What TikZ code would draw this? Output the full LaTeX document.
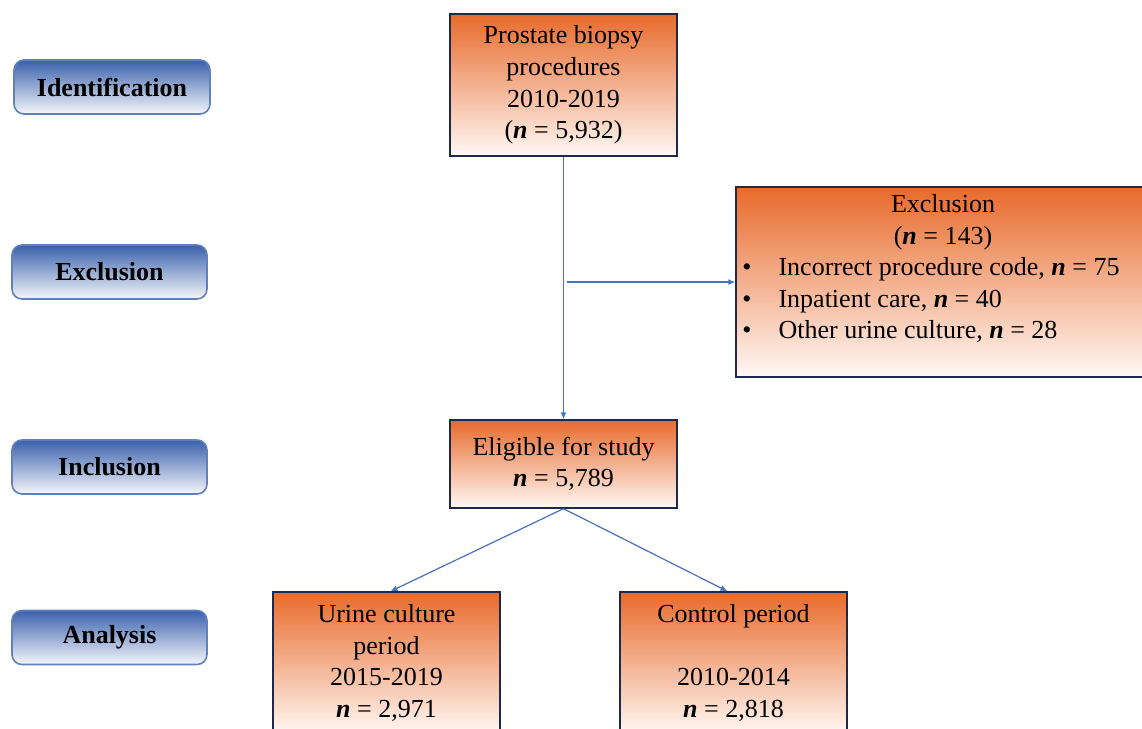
\documentclass[tikz,border=0pt]{standalone}
\usepackage{fontspec}
\setmainfont{Liberation Serif}
\usepackage{tikz}
\usetikzlibrary{arrows.meta}
\definecolor{boxorange}{RGB}{232,106,44}
\definecolor{boxpale}{RGB}{255,248,244}
\definecolor{stageblue}{RGB}{58,96,172}
\definecolor{linkblue}{RGB}{68,114,196}
\definecolor{boxedge}{RGB}{30,40,72}
\newcommand{\nsize}{\textbf{\textit{n}}}

\begin{document}
\begin{tikzpicture}[x=0.5pt,y=-0.5pt,
    main node/.style={draw=boxedge, line width=0.7pt, top color=boxorange, middle color=boxorange!55!boxpale, bottom color=boxpale, align=center, inner sep=0pt, font=\fontsize{13}{15.8}\selectfont, minimum width=113.5pt},
    stage node/.style={draw=stageblue!80, line width=0.8pt, rounded corners=5pt, top color=stageblue, middle color=stageblue!45!white, bottom color=stageblue!5, font=\fontsize{13}{15.5}\selectfont\bfseries, minimum width=97.5pt, minimum height=27pt},
    link/.style={draw=linkblue, line width=0.8pt, -{Latex[length=3.5pt,width=3pt]}}]
    \useasboundingbox (0,0) rectangle (1142,729);
    \clip (0,0) rectangle (1142,729);

    % flow boxes
    \node[main node, minimum height=71pt] (1) at (563.5,85) {Prostate biopsy\\procedures\\2010-2019\\(\nsize{} = 5,932)};
    \node[main node, minimum width=207pt, minimum height=95pt] (4) at (943,282) {%
      \raisebox{-1.6pt}[\height][\depth]{%
      \begin{tabular}{@{}l@{\hspace{13.5pt}}l@{}}
        \multicolumn{2}{c}{\hspace*{12pt}Exclusion}\\
        \multicolumn{2}{c}{\hspace*{12pt}(\nsize{} = 143)}\\
        \textbullet & Incorrect procedure code, \nsize{} = 75\\
        \textbullet & Inpatient care, \nsize{} = 40\\
        \textbullet & Other urine culture, \nsize{} = 28\\
        &
      \end{tabular}}\hspace*{12pt}};
    \node[main node, minimum height=44pt] (5) at (563.5,464) {Eligible for study\\\nsize{} = 5,789};
    \node[main node, minimum height=71pt] (6) at (386.5,663) {Urine culture\\period\\2015-2019\\\nsize{} = 2,971};
    \node[main node, minimum height=71pt] (7) at (733.5,663) {Control period\\\mbox{}\\2010-2014\\\nsize{} = 2,818};

    % stages on the left
    \node[stage node, minimum width=98pt] (8) at (112,87) {Identification};
    \node[stage node] (9) at (109.5,272) {Exclusion};
    \node[stage node] (10) at (109.5,467) {Inclusion};
    \node[stage node] (11) at (109.5,637.5) {Analysis};

    \coordinate (2) at (567,282);

    \path
    (1) edge[link] (5)
    (2) edge[link, line width=0.6pt] (4)
    (5.south) edge[link, line width=0.6pt] ([xshift=2pt]6.north)
    (5.south) edge[link, line width=0.6pt] ([xshift=-3pt]7.north);
  \end{tikzpicture}
\end{document}
